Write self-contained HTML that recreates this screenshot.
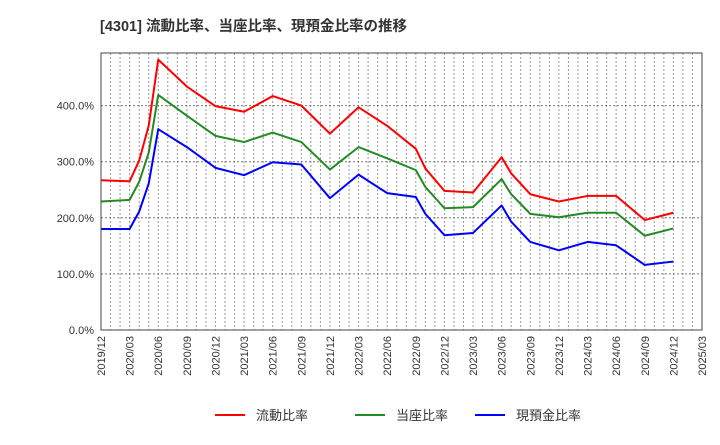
<!DOCTYPE html>
<html><head><meta charset="utf-8"><style>
body{margin:0;background:#fff;}
svg text{font-family:"Liberation Sans","Noto Sans CJK JP",sans-serif;}
</style></head><body>
<svg id="chart" width="720" height="440" xmlns="http://www.w3.org/2000/svg">
<text x="100" y="31" font-size="14.5" font-weight="bold" fill="#333">[4301]  流動比率、当座比率、現預金比率の推移</text>
<g id="grid"></g>
<g id="axes"></g>
<g id="series"></g>
<rect x="101" y="53" width="601" height="277" fill="none" stroke="#444" stroke-width="1"/>
<g>
<line x1="215" y1="415" x2="245" y2="415" stroke="#ff0000" stroke-width="2"/>
<text x="256" y="420" font-size="13" fill="#333">流動比率</text>
<line x1="355" y1="415" x2="385" y2="415" stroke="#228b22" stroke-width="2"/>
<text x="396" y="420" font-size="13" fill="#333">当座比率</text>
<line x1="475" y1="415" x2="505" y2="415" stroke="#0000ff" stroke-width="2"/>
<text x="516" y="420" font-size="13" fill="#333">現預金比率</text>
</g>
</svg>
<script>
const months = [0,3,4,5,6,9,12,15,18,21,24,27,30,33,34,36,39,42,43,45,48,51,54,57,60];
const currentRatio = [267,265,302,364,482,434,399,389,417,400,350,397,364,323,288,248,245,308,279,242,229,239,239,196,209];
const quickRatio = [229,232,264,316,419,382,346,335,352,335,286,326,306,285,255,217,219,269,242,207,201,209,209,168,181];
const cashRatio = [180,180,211,261,358,326,289,276,299,295,235,277,244,237,207,169,173,222,193,157,142,157,151,116,122];
const yTicks = [0,100,200,300,400];
const xTickLabels = ["2019/12","2020/03","2020/06","2020/09","2020/12","2021/03","2021/06","2021/09","2021/12","2022/03","2022/06","2022/09","2022/12","2023/03","2023/06","2023/09","2023/12","2024/03","2024/06","2024/09","2024/12","2025/03"];

const L=101,R=702,T=53,B=330,TOTAL=63;
const xs=m=>L+m*(R-L)/TOTAL;
const ys=v=>B-v*0.561;
const NS="http://www.w3.org/2000/svg";
function mk(tag,attrs,parent){const e=document.createElementNS(NS,tag);for(const k in attrs)e.setAttribute(k,attrs[k]);parent.appendChild(e);return e;}
const grid=document.getElementById('grid'),axes=document.getElementById('axes'),ser=document.getElementById('series');
for(let m=1;m<TOTAL;m++){
  const g=mk('line',{x1:xs(m),x2:xs(m),y1:T,y2:B,stroke:'#999','stroke-dasharray':'2,2','stroke-width':1},grid);
  
  
}
yTicks.forEach(v=>{
  if(v>0){const g=mk('line',{x1:L,x2:R,y1:ys(v),y2:ys(v),stroke:'#777','stroke-dasharray':'2,2','stroke-width':1},grid);
  
  }
  const t=mk('text',{x:L-7,y:ys(v)+4,'text-anchor':'end','font-size':11,fill:'#333'},axes);
  t.textContent=v.toFixed(1)+'%';
  
  
});
xTickLabels.forEach((lab,i)=>{
  const x=xs(i*3);
  const t=mk('text',{x:0,y:0,'text-anchor':'end','font-size':11,fill:'#333',transform:`translate(${x+4},${B+6}) rotate(-90)`},axes);
  t.textContent=lab;
  
  
});
[[currentRatio,'#ff0000','current-ratio-line'],[quickRatio,'#228b22','quick-ratio-line'],[cashRatio,'#0000ff','cash-ratio-line']].forEach(([vals,c,n])=>{
  const p=mk('polyline',{points:vals.map((v,i)=>xs(months[i])+','+ys(v)).join(' '),fill:'none',stroke:c,'stroke-width':2,'stroke-linejoin':'round'},ser);
  
  
});
</script>
</body></html>
